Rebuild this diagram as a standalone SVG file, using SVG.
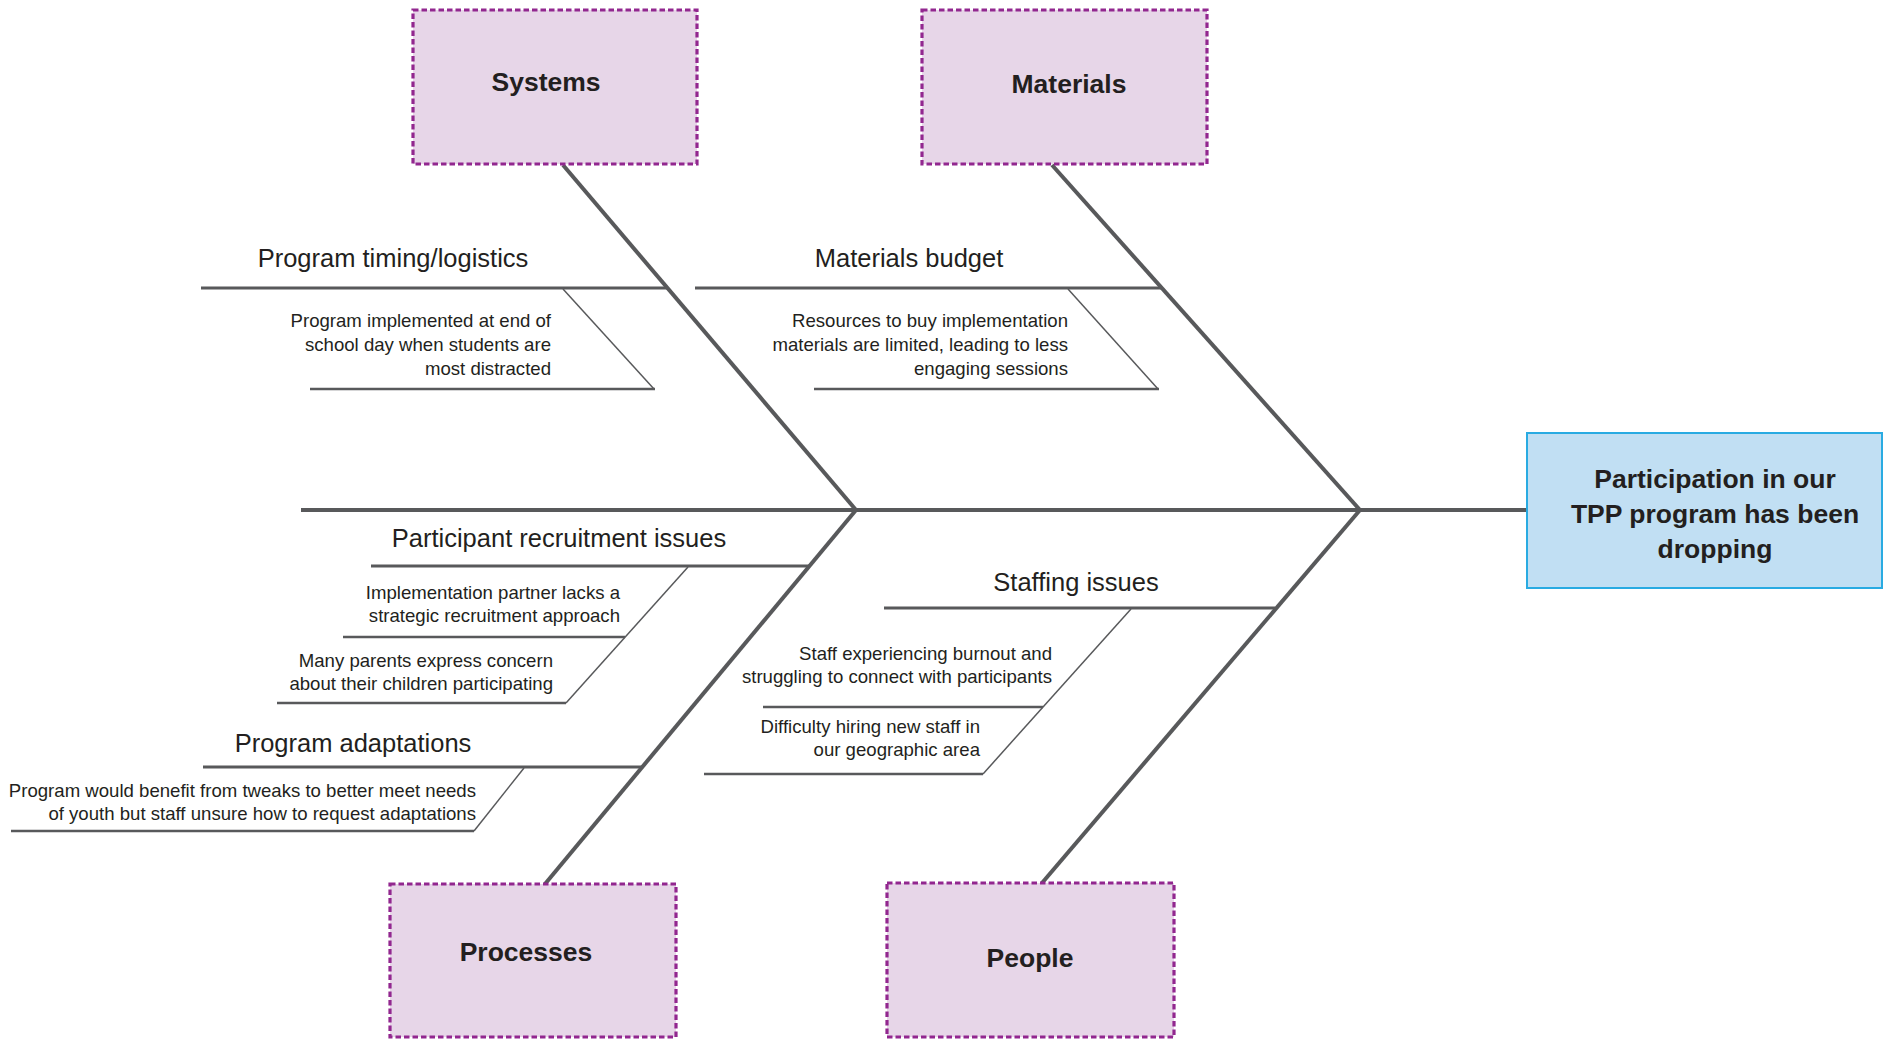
<svg xmlns="http://www.w3.org/2000/svg" width="1885" height="1039" viewBox="0 0 1885 1039">
<style>
  .cat { fill: #e7d6e8; stroke: #92278f; stroke-width: 3.2; stroke-dasharray: 5.5 3; }
  .head { fill: #c1dff3; stroke: #29abe2; stroke-width: 2; }
  .bold { font-family: "Liberation Sans", Arial, sans-serif; font-weight: bold; fill: #231f20; text-anchor: middle; }
  .lbl { font-family: "Liberation Sans", Arial, sans-serif; font-size: 25.5px; fill: #231f20; text-anchor: middle; }
  .sub { font-family: "Liberation Sans", Arial, sans-serif; font-size: 18.6px; fill: #231f20; text-anchor: end; }
  .main { stroke: #58595b; stroke-width: 4; fill: none; }
  .bone { stroke: #58595b; stroke-width: 3; fill: none; }
  .hl { stroke: #58595b; stroke-width: 2.5; fill: none; }
  .dg { stroke: #58595b; stroke-width: 1.5; fill: none; }
</style>
<rect width="1885" height="1039" fill="#ffffff"/>
<g id="connectors">
  <line class="main" x1="301" y1="510" x2="1527" y2="510"/>
  <line class="main" x1="563" y1="165" x2="856" y2="510"/>
  <line class="main" x1="1052" y1="165" x2="1360" y2="510"/>
  <line class="main" x1="856" y1="510" x2="545" y2="884"/>
  <line class="main" x1="1360" y1="510" x2="1042" y2="883"/>
  <!-- Systems -->
  <line class="bone" x1="201" y1="288" x2="667" y2="288"/>
  <line class="dg" x1="563" y1="289" x2="654" y2="389"/>
  <line class="hl" x1="310" y1="389" x2="655" y2="389"/>
  <!-- Materials -->
  <line class="bone" x1="695" y1="288" x2="1162" y2="288"/>
  <line class="dg" x1="1068" y1="289" x2="1158" y2="389"/>
  <line class="hl" x1="814" y1="389" x2="1159" y2="389"/>
  <!-- Processes -->
  <line class="bone" x1="371" y1="566" x2="809" y2="566"/>
  <line class="dg" x1="688" y1="567" x2="566" y2="703"/>
  <line class="hl" x1="343" y1="637" x2="625" y2="637"/>
  <line class="hl" x1="277" y1="703" x2="566" y2="703"/>
  <line class="bone" x1="203" y1="767" x2="642" y2="767"/>
  <line class="dg" x1="524" y1="768" x2="474" y2="831"/>
  <line class="hl" x1="11" y1="831" x2="474" y2="831"/>
  <!-- People -->
  <line class="bone" x1="884" y1="608" x2="1275" y2="608"/>
  <line class="dg" x1="1131" y1="609" x2="983" y2="774"/>
  <line class="hl" x1="763" y1="707" x2="1043" y2="707"/>
  <line class="hl" x1="704" y1="774" x2="983" y2="774"/>
</g>
<g id="node-systems">
  <rect class="cat" x="413" y="10" width="284" height="154"/>
  <text class="bold" x="546" y="91" font-size="26.5">Systems</text>
</g>
<g id="node-materials">
  <rect class="cat" x="922" y="10" width="285" height="154"/>
  <text class="bold" x="1069" y="93" font-size="26.5">Materials</text>
</g>
<g id="node-processes">
  <rect class="cat" x="390" y="884" width="286" height="153"/>
  <text class="bold" x="526" y="961" font-size="26.5">Processes</text>
</g>
<g id="node-people">
  <rect class="cat" x="887" y="883" width="287" height="154"/>
  <text class="bold" x="1030" y="967" font-size="26.5">People</text>
</g>
<g id="node-problem">
  <rect class="head" x="1527" y="433" width="355" height="155"/>
  <text class="bold" x="1715" y="488" font-size="26.5">Participation in our</text>
  <text class="bold" x="1715" y="523" font-size="26.5">TPP program has been</text>
  <text class="bold" x="1715" y="558" font-size="26.5">dropping</text>
</g>
<g id="cause-timing">
  <text class="lbl" x="393" y="267">Program timing/logistics</text>
  <text class="sub" x="551" y="327">Program implemented at end of</text>
  <text class="sub" x="551" y="351">school day when students are</text>
  <text class="sub" x="551" y="375">most distracted</text>
</g>
<g id="cause-budget">
  <text class="lbl" x="909" y="267">Materials budget</text>
  <text class="sub" x="1068" y="327">Resources to buy implementation</text>
  <text class="sub" x="1068" y="351">materials are limited, leading to less</text>
  <text class="sub" x="1068" y="375">engaging sessions</text>
</g>
<g id="cause-recruitment">
  <text class="lbl" x="559" y="547">Participant recruitment issues</text>
  <text class="sub" x="620" y="599">Implementation partner lacks a</text>
  <text class="sub" x="620" y="622">strategic recruitment approach</text>
  <text class="sub" x="553" y="667">Many parents express concern</text>
  <text class="sub" x="553" y="690">about their children participating</text>
</g>
<g id="cause-adaptations">
  <text class="lbl" x="353" y="752">Program adaptations</text>
  <text class="sub" x="476" y="797">Program would benefit from tweaks to better meet needs</text>
  <text class="sub" x="476" y="820">of youth but staff unsure how to request adaptations</text>
</g>
<g id="cause-staffing">
  <text class="lbl" x="1076" y="591">Staffing issues</text>
  <text class="sub" x="1052" y="660">Staff experiencing burnout and</text>
  <text class="sub" x="1052" y="683">struggling to connect with participants</text>
  <text class="sub" x="980" y="733">Difficulty hiring new staff in</text>
  <text class="sub" x="980" y="756">our geographic area</text>
</g>
</svg>
